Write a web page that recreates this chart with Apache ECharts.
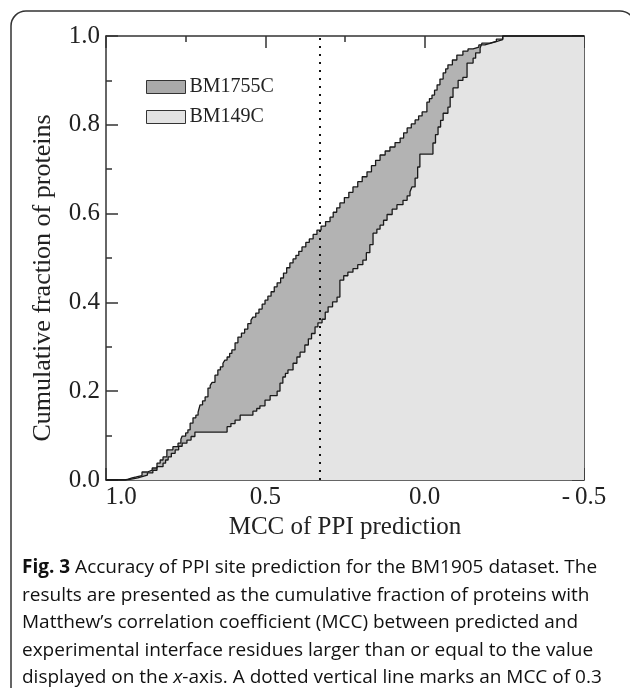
<!DOCTYPE html>
<html><head><meta charset="utf-8">
<script src="https://cdn.jsdelivr.net/npm/echarts@6/dist/echarts.min.js"></script>
<style>html,body{margin:0;padding:0;background:#fff}#c{width:630px;height:688px}</style>
</head><body><div id="c"></div><script>
// ---- data (MCC value, cumulative fraction) ----
const seriesNames = ['BM1755C', 'BM149C'];
const bm1755c = [
 [1.0,0],[0.94,0.002],[0.93,0.005],[0.918,0.007],[0.905,0.010],[0.887,0.018],[0.87,0.022],[0.855,0.027],
 [0.84,0.038],[0.83,0.045],[0.821,0.052],[0.809,0.068],[0.79,0.075],[0.774,0.083],[0.765,0.092],[0.761,0.099],
 [0.75,0.106],[0.743,0.113],[0.736,0.128],[0.727,0.140],[0.718,0.146],[0.711,0.153],[0.705,0.169],[0.697,0.178],
 [0.689,0.187],[0.680,0.207],[0.673,0.213],[0.667,0.220],[0.658,0.236],[0.649,0.248],[0.641,0.255],[0.633,0.263],
 [0.627,0.270],[0.620,0.277],[0.612,0.285],[0.605,0.293],[0.595,0.309],[0.586,0.322],[0.575,0.331],[0.565,0.340],
 [0.555,0.352],[0.545,0.360],[0.539,0.367],[0.530,0.376],[0.520,0.385],[0.510,0.396],[0.501,0.405],[0.492,0.414],
 [0.482,0.424],[0.472,0.435],[0.463,0.444],[0.452,0.455],[0.443,0.466],[0.433,0.478],[0.423,0.489],[0.413,0.498],
 [0.404,0.506],[0.395,0.515],[0.385,0.525],[0.373,0.535],[0.362,0.543],[0.350,0.553],[0.338,0.563],[0.325,0.572],
 [0.311,0.582],[0.297,0.592],[0.287,0.603],[0.276,0.613],[0.266,0.624],[0.252,0.636],[0.238,0.648],[0.225,0.660],
 [0.210,0.672],[0.196,0.683],[0.181,0.694],[0.167,0.708],[0.154,0.720],[0.140,0.732],[0.124,0.741],[0.109,0.750],
 [0.093,0.760],[0.077,0.770],[0.066,0.782],[0.055,0.793],[0.042,0.802],[0.030,0.811],[0.019,0.820],[0.008,0.829],
 [-0.007,0.851],[-0.015,0.859],[-0.023,0.867],[-0.031,0.878],[-0.039,0.890],[-0.048,0.903],[-0.058,0.917],[-0.066,0.926],
 [-0.073,0.935],[-0.087,0.946],[-0.101,0.957],[-0.12,0.966],[-0.136,0.971],[-0.152,0.975],[-0.17,0.980],[-0.189,0.984],
 [-0.208,0.988],[-0.227,0.992],[-0.245,1.0],[-0.5,1.0]
];
const bm149c = [
 [1.0,0],[0.94,0.002],[0.92,0.005],[0.90,0.008],[0.884,0.011],[0.87,0.016],[0.853,0.022],[0.84,0.030],
 [0.821,0.038],[0.813,0.045],[0.805,0.052],[0.795,0.060],[0.783,0.068],[0.772,0.076],[0.761,0.083],[0.746,0.090],
 [0.733,0.098],[0.721,0.108],[0.620,0.120],[0.608,0.127],[0.595,0.135],[0.579,0.146],[0.539,0.155],[0.527,0.161],
 [0.517,0.167],[0.501,0.180],[0.485,0.190],[0.463,0.200],[0.454,0.218],[0.445,0.232],[0.437,0.240],[0.429,0.248],
 [0.413,0.263],[0.401,0.277],[0.391,0.288],[0.376,0.304],[0.365,0.318],[0.355,0.330],[0.344,0.345],[0.335,0.354],
 [0.322,0.362],[0.312,0.378],[0.303,0.390],[0.289,0.401],[0.275,0.412],[0.266,0.450],[0.254,0.460],[0.241,0.468],
 [0.225,0.476],[0.210,0.485],[0.194,0.495],[0.183,0.512],[0.172,0.530],[0.162,0.556],[0.150,0.565],[0.140,0.574],
 [0.129,0.585],[0.118,0.598],[0.102,0.610],[0.087,0.620],[0.068,0.630],[0.055,0.640],[0.046,0.649],[0.040,0.660],
 [0.030,0.680],[0.022,0.705],[0.015,0.734],[-0.026,0.759],[-0.034,0.778],[-0.042,0.795],[-0.050,0.810],[-0.058,0.826],
 [-0.073,0.840],[-0.080,0.862],[-0.089,0.883],[-0.105,0.900],[-0.120,0.907],[-0.133,0.939],[-0.152,0.950],[-0.160,0.962],
 [-0.174,0.973],[-0.180,0.984],[-0.205,0.988],[-0.225,0.993],[-0.245,1.0],[-0.5,1.0]
];
const markMCC = 0.333;
const xTicks = [-0.5, 0, 0.5, 1.0];
const xTickLabels = ['-\u20090.5', '0.0', '0.5', '1.0'];
const yTickLabels = ['0.0', '0.2', '0.4', '0.6', '0.8', '1.0'];
const xTitle = 'MCC of PPI prediction';
const yTitle = 'Cumulative fraction of proteins';
// caption lines; {b|..} bold, {i|..} italic
const captionLines = [
 '{b|Fig. 3} Accuracy of PPI site prediction for the BM1905 dataset. The',
 'results are presented as the cumulative fraction of proteins with',
 'Matthew\u2019s correlation coefficient (MCC) between predicted and',
 'experimental interface residues larger than or equal to the value',
 'displayed on the {i|x}-axis. A dotted vertical line marks an MCC of 0.3'
];

// ---- styles ----
const serif = "'Liberation Serif','Times New Roman',serif";
const sans = "'Open Sans','Noto Sans',sans-serif";
const ink = '#222';
const darkFill = '#b3b3b3', lightFill = '#e4e4e4';

const chart = echarts.init(document.getElementById('c'), null, {renderer: 'canvas'});

function xLabel(v) {
  const i = xTicks.findIndex(t => Math.abs(t - v) < 1e-9);
  const s = i >= 0 ? xTickLabels[i] : '';
  return Math.abs(v - 1.0) < 1e-9 ? '{l|' + s + '}' : s;
}
function yLabel(v) {
  const i = Math.round(v / 0.2);
  return yTickLabels[i] !== undefined ? yTickLabels[i] : '';
}
const axisLineStyle = {color: '#333', width: 1.5};
const baseX = {
  type: 'value', min: -0.5, max: 1.0, interval: 0.5, inverse: true,
  splitLine: {show: false},
  axisLine: {show: true, onZero: false, lineStyle: axisLineStyle},
  axisTick: {show: true, inside: true, length: 12, lineStyle: axisLineStyle},
  minorTick: {show: true, splitNumber: 2, length: 6, lineStyle: axisLineStyle}
};
const baseY = {
  type: 'value', min: 0, max: 1.0, interval: 0.2,
  splitLine: {show: false},
  axisLine: {show: true, onZero: false, lineStyle: axisLineStyle},
  axisTick: {show: true, inside: true, length: 12, lineStyle: axisLineStyle},
  minorTick: {show: true, splitNumber: 2, length: 6, lineStyle: axisLineStyle}
};

const capX = 22, capY0 = 568, capDY = 27.5, capFont = 19;
const captionGraphics = captionLines.map((line, i) => ({
  type: 'text', x: capX, y: capY0 + i * capDY, silent: true,
  style: {
    text: line,
    rich: {
      b: {fontFamily: sans, fontSize: capFont, fontWeight: 'bold', fill: '#111'},
      i: {fontFamily: sans, fontSize: capFont, fontStyle: 'italic', fill: '#111'}
    },
    fontFamily: sans, fontSize: capFont, fill: '#111', verticalAlign: 'middle'
  }
}));

chart.setOption({
  animation: false,
  backgroundColor: '#fff',
  grid: {left: 106, top: 36, width: 478, height: 444, containLabel: false},
  legend: {
    orient: 'vertical', left: 141, top: 72, itemWidth: 39, itemHeight: 13, itemGap: 10,
    icon: 'rect',
    textStyle: {fontFamily: serif, fontSize: 20, color: ink, padding: [0, 0, 0, -1]},
    data: [
      {name: seriesNames[0], itemStyle: {color: '#aaaaaa', borderColor: '#333', borderWidth: 1}},
      {name: seriesNames[1], itemStyle: {color: '#e2e2e2', borderColor: '#333', borderWidth: 1}}
    ],
    selectedMode: false
  },
  xAxis: [
    Object.assign({}, baseX, {
      position: 'bottom',
      name: xTitle, nameLocation: 'middle', nameGap: 33,
      nameTextStyle: {fontFamily: serif, fontSize: 25, color: ink},
      axisLabel: {show: true, margin: 5, fontFamily: serif, fontSize: 25, color: ink, formatter: xLabel,
        rich: {l: {fontFamily: serif, fontSize: 25, color: ink, padding: [0, 0, 0, 30]}}}
    }),
    Object.assign({}, baseX, {position: 'top', axisLabel: {show: false}})
  ],
  yAxis: [
    Object.assign({}, baseY, {
      position: 'left',
      name: yTitle, nameLocation: 'middle', nameGap: 50,
      nameTextStyle: {fontFamily: serif, fontSize: 26, color: ink, padding: [0, 40, 0, 0]},
      axisLabel: {show: true, margin: 6, fontFamily: serif, fontSize: 25, color: ink, formatter: yLabel}
    }),
    Object.assign({}, baseY, {position: 'right', axisLabel: {show: false}})
  ],
  series: [
    {
      name: seriesNames[0], type: 'line', step: 'end', symbol: 'none', data: bm1755c,
      lineStyle: {color: '#1a1a1a', width: 1.3}, itemStyle: {color: darkFill},
      areaStyle: {color: darkFill, opacity: 1}
    },
    {
      name: seriesNames[1], type: 'line', step: 'end', symbol: 'none', data: bm149c,
      lineStyle: {color: '#1a1a1a', width: 1.3}, itemStyle: {color: lightFill},
      areaStyle: {color: lightFill, opacity: 1},
      markLine: {
        silent: true, symbol: ['none', 'none'], label: {show: false},
        lineStyle: {type: [2, 6], color: '#111', width: 2, cap: 'butt'},
        data: [{xAxis: markMCC}]
      }
    }
  ],
  graphic: [
    {type: 'rect', shape: {x: 11, y: 11, width: 624, height: 700, r: 15},
     style: {fill: 'none', stroke: '#333', lineWidth: 1.5}, silent: true}
  ].concat(captionGraphics)
});
</script></body></html>
